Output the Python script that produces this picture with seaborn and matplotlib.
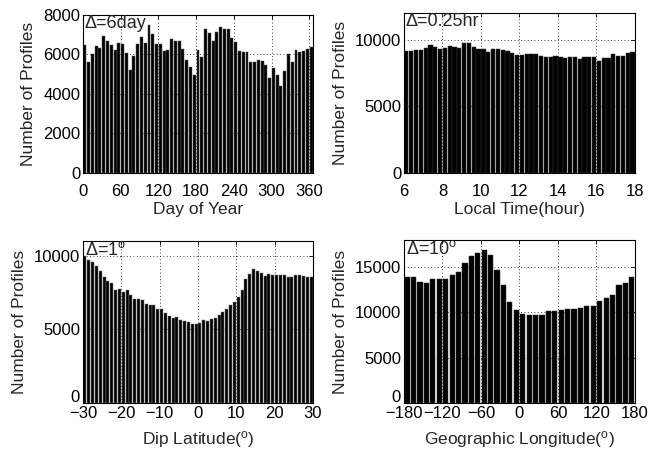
import numpy as np
import pandas as pd
import matplotlib
matplotlib.use("Agg")
import matplotlib.pyplot as plt
import seaborn as sns

# ---------------- data ----------------
doy_centers = np.arange(3, 366, 6)          # 6-day bins
doy_counts = [6470, 5620, 6040, 6410, 6350, 6940, 6670, 6470, 6230, 6580,
              6550, 6080, 5220, 5910, 6550, 6880, 6580, 7480, 7020, 6550,
              6550, 6180, 6250, 6770, 6680, 6680, 6300, 5720, 5380, 4970,
              6230, 5890, 7290, 7070, 6700, 7120, 7410, 7290, 7270, 6850,
              6650, 6200, 6110, 6110, 5640, 5640, 5720, 5670, 5470, 4830,
              5300, 4970, 4430, 5170, 6030, 5640, 6230, 6110, 6200, 6280,
              6400]

lt_centers = np.arange(6.125, 18, 0.25)     # 0.25-hour bins
lt_counts = [9120, 9170, 9250, 9220, 9400, 9620, 9470, 9320, 9370, 9520,
             9470, 9400, 9720, 9720, 9470, 9320, 9320, 9100, 9320, 9320,
             9220, 9170, 8970, 8840, 8840, 8940, 8940, 8940, 8740, 8720,
             8690, 8740, 8690, 8620, 8670, 8670, 8570, 8670, 8690, 8690,
             8390, 8640, 8640, 8920, 8770, 8770, 8990, 9100]

lat_centers = np.arange(-29.5, 30, 1.0)     # 1-degree bins
lat_counts = [10000, 9730, 9550, 9330, 8940, 8580, 8270, 8120, 7690, 7730,
              7510, 7690, 7300, 7030, 7080, 6970, 6700, 6650, 6670, 6380,
              6400, 6110, 5930, 5800, 5840, 5660, 5570, 5480, 5390, 5330,
              5440, 5660, 5570, 5710, 5800, 5950, 6180, 6400, 6630, 6850,
              7190, 7690, 8430, 8770, 9100, 8990, 8810, 8650, 8770, 8720,
              8670, 8720, 8670, 8580, 8540, 8720, 8720, 8650, 8540, 8540]

lon_centers = np.arange(-175, 180, 10)      # 10-degree bins
lon_counts = [13900, 13900, 13360, 13290, 13650, 13680, 13680, 14090, 14420, 15440,
              16210, 16580, 16940, 16390, 14640, 12990, 11200, 10320, 9880, 9700,
              9700, 9700, 10130, 10130, 10240, 10390, 10390, 10500, 10680, 10680,
              11230, 11600, 11890, 12990, 13250, 13900]

# ---------------- style ----------------
sns.set_theme(style="white")
plt.rcParams['font.family'] = ['Liberation Sans', 'DejaVu Sans']
plt.rcParams['mathtext.fontset'] = 'custom'
plt.rcParams['mathtext.rm'] = 'Liberation Sans'
plt.rcParams['mathtext.it'] = 'Liberation Sans'

fig = plt.figure(figsize=(6.5, 4.53), dpi=100)

positions = [
    [0.1277, 0.6181, 0.3538, 0.3488],
    [0.6215, 0.6181, 0.3554, 0.3532],
    [0.1277, 0.1104, 0.3538, 0.3576],
    [0.6215, 0.1104, 0.3554, 0.3598],
]

panels = [
    dict(x=doy_centers, y=doy_counts, xlim=(0, 366), xticks=np.arange(0, 361, 60),
         ylim=(0, 8000), yticks=np.arange(0, 8001, 2000), xlabel="Day of Year",
         note="\u0394=6day", width=0.78, edge="#5a5a5a", bottom=False),
    dict(x=lt_centers, y=lt_counts, xlim=(6, 18), xticks=np.arange(6, 19, 2),
         ylim=(0, 12000), yticks=[0, 5000, 10000], xlabel="Local Time(hour)",
         note="\u0394=0.25hr", width=0.88, edge="#333333", bottom=False),
    dict(x=lat_centers, y=lat_counts, xlim=(-30, 30), xticks=np.arange(-30, 31, 10),
         ylim=(0, 11000), yticks=[0, 5000, 10000], xlabel="Dip Latitude($^{o}$)",
         note="\u0394=1$^{o}$", width=0.8, edge="#7a7a7a", bottom=True),
    dict(x=lon_centers, y=lon_counts, xlim=(-180, 180), xticks=np.arange(-180, 181, 60),
         ylim=(0, 18000), yticks=[0, 5000, 10000, 15000],
         xlabel="Geographic Longitude($^{o}$)", note="\u0394=10$^{o}$", width=0.8,
         edge="#333333", bottom=True),
]

for pos, p in zip(positions, panels):
    ax = fig.add_axes(pos)
    df = pd.DataFrame({"x": p["x"], "y": p["y"]})
    ax.grid(True, linestyle=(0, (1, 3)), color="black", linewidth=0.6)
    ax.set_axisbelow(True)
    sns.barplot(data=df, x="x", y="y", native_scale=True, color="black",
                saturation=1, width=p["width"], edgecolor=p["edge"], linewidth=0.35,
                ax=ax)
    ax.set_xlim(*p["xlim"])
    ax.set_ylim(*p["ylim"])
    ax.set_xticks(p["xticks"])
    ax.set_xticklabels([("\u2212" + str(abs(int(t)))) if t < 0 else str(int(t))
                        for t in p["xticks"]])
    ax.set_yticks(p["yticks"])
    ylabels = [str(int(t)) for t in p["yticks"]]
    if p["bottom"]:
        # the y "0" label sits a little higher in the reference
        ylabels[0] = ""
        ax.annotate(str(int(p["yticks"][0])), xy=(0, p["yticks"][0]),
                    xycoords=("axes fraction", "data"), xytext=(-2.5, 5),
                    textcoords="offset points", ha="right", va="center_baseline",
                    fontsize=12, color="black")
    ax.set_yticklabels(ylabels)
    ax.tick_params(direction="in", length=3, width=0.6, top=True, right=True,
                   labelsize=12, colors="black")
    if p["bottom"]:
        ax.tick_params(axis="x", pad=2)
        ax.set_xlabel(p["xlabel"], fontsize=12.5, labelpad=6)
    else:
        ax.tick_params(axis="x", pad=8)
        ax.set_xlabel(p["xlabel"], fontsize=12.5, labelpad=2)
    ax.tick_params(axis="y", pad=2)
    ax.set_ylabel("Number of Profiles", fontsize=12.5, labelpad=5)
    for s in ax.spines.values():
        s.set_visible(True)
        s.set_color("black")
        s.set_linewidth(0.8)
    ax.text(0.008, 1.0, p["note"], transform=ax.transAxes, ha="left", va="top",
            fontsize=13, zorder=5)

fig.savefig("out.png", dpi=100)
